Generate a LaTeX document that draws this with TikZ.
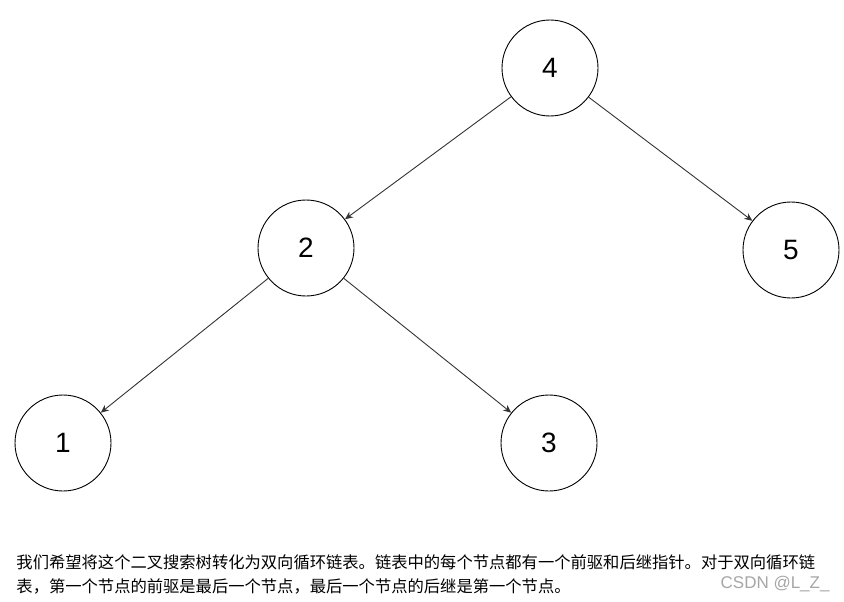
\documentclass[tikz,border=0pt]{standalone}
\usepackage{fontspec}
\setmainfont{Liberation Sans}
\newfontfamily\cjk{Noto Sans CJK SC}
\usetikzlibrary{arrows.meta}

\begin{document}
\begin{tikzpicture}[x=1pt,y=-1pt,line width=0.9pt,
    treenode/.style={draw,circle,minimum size=96pt,inner sep=0pt,font=\fontsize{28}{28}\selectfont},
    edge/.style={-{Stealth[length=8pt,width=7pt]},draw=black!80}]

        \useasboundingbox (0,0) rectangle (844,602);

        \node[treenode] (n4) at (550,68) {4};
        \node[treenode] (n2) at (306,248) {2};
        \node[treenode] (n5) at (791,250) {5};
        \node[treenode] (n1) at (63,443) {1};
        \node[treenode] (n3) at (549,443) {3};

        \foreach \a/\b in {n4/n2, n4/n5, n2/n1, n2/n3} {
        \draw[edge] (\a) -- (\b);
        }

        \node[anchor=west,inner sep=0pt,font=\cjk\fontsize{16.3}{16}\selectfont] (line1) at (16,562)
            {我们希望将这个二叉搜索树转化为双向循环链表。链表中的每个节点都有一个前驱和后继指针。对于双向循环链};
        \node[anchor=west,inner sep=0pt,font=\cjk\fontsize{16.3}{16}\selectfont] (line2) at (16,586)
            {表，第一个节点的前驱是最后一个节点，最后一个节点的后继是第一个节点。};
        \node[anchor=east,inner sep=0pt,text=black!35,font=\fontsize{17}{17}\selectfont] (mark) at (830,584) {CSDN @L\_Z\_};
    \end{tikzpicture}
\end{document}
